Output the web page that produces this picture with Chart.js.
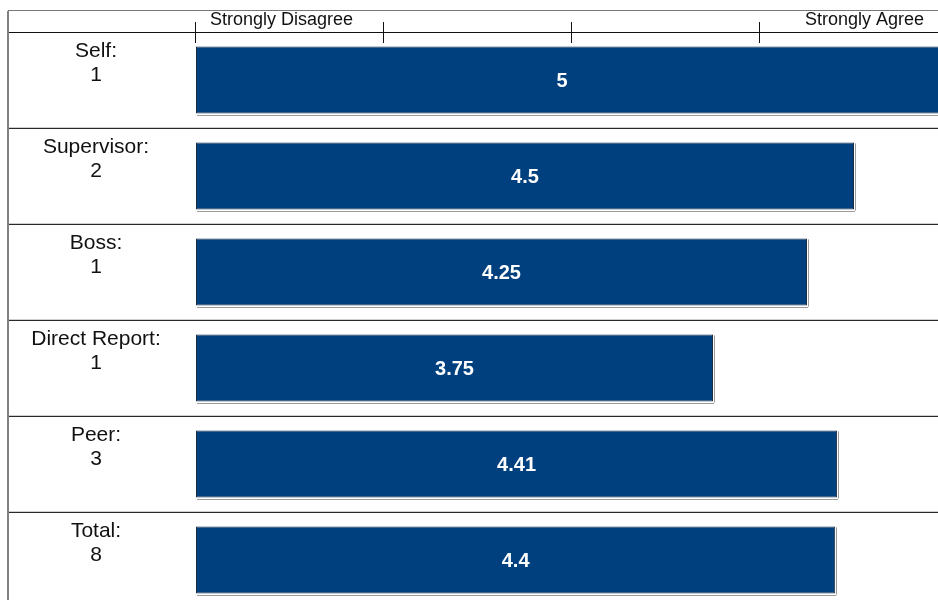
<!DOCTYPE html>
<html>
<head>
<meta charset="utf-8">
<script src="https://cdn.jsdelivr.net/npm/chart.js"></script>
<style>
  html, body { margin:0; padding:0; background:#fff; overflow:hidden; }
  #wrap { width:938px; height:600px; overflow:hidden; position:relative; }
  #box { width:950px; height:610px; }
</style>
</head>
<body>
<div id="wrap"><div id="box"><canvas id="rating-chart"></canvas></div></div>
<script>
// rater groups, number of raters, average score
const groups = ['Self:', 'Supervisor:', 'Boss:', 'Direct Report:', 'Peer:', 'Total:'];
const raters = [1, 2, 1, 1, 3, 8];
const scores = [5, 4.5, 4.25, 3.75, 4.41, 4.4];
const scaleMin = 1;
const scaleMax = 5;
const scaleTicks = [1, 2, 3, 4, 5];
const scaleEnds = ['Strongly Disagree', 'Strongly Agree'];

const FONT = '"Liberation Sans", Arial, sans-serif';
const VIEW_W = 938, VIEW_H = 600;

const frame = {
  id: 'frame',
  beforeDatasetsDraw(chart) {
    // thin grey drop shadow under each bar
    const ctx = chart.ctx;
    const left = chart.scales.x.getPixelForValue(scaleMin);
    ctx.save();
    ctx.fillStyle = '#9a9a9a';
    chart.getDatasetMeta(0).data.forEach(bar => {
      const h = bar.height;
      ctx.fillRect(left + 1, Math.round(bar.y + h / 2) + 1, bar.x - left, 1);
      ctx.fillRect(Math.round(bar.x) + 1, bar.y - h / 2 + 1, 1, h);
    });
    ctx.restore();
  },
  afterDraw(chart) {
    const ctx = chart.ctx;
    const x = chart.scales.x, y = chart.scales.y;
    const area = chart.chartArea;
    const step = y.getPixelForValue(1) - y.getPixelForValue(0);
    const left = x.getPixelForValue(scaleMin);
    ctx.save();

    // outer frame
    ctx.fillStyle = '#808080';
    ctx.fillRect(7, 11, 2, VIEW_H);
    ctx.fillStyle = '#777';
    ctx.fillRect(8, 10, VIEW_W, 1);
    ctx.fillStyle = '#111';
    ctx.fillRect(9, Math.round(area.top), VIEW_W, 1);

    // row separators
    groups.forEach((g, i) => {
      if (i === 0) return;
      const yy = Math.round(y.getPixelForValue(i) - step / 2);
      ctx.fillStyle = '#cfcfcf';
      ctx.fillRect(9, yy - 1, VIEW_W, 1);
      ctx.fillStyle = '#2a2a2a';
      ctx.fillRect(9, yy, VIEW_W, 1);
    });

    // scale tick marks across the header line
    ctx.fillStyle = '#111';
    scaleTicks.forEach(v => {
      const px = Math.round(x.getPixelForValue(v));
      ctx.fillRect(px - 1, area.top - 10, 1, 21);
    });

    // scale end captions
    ctx.font = '18px ' + FONT;
    ctx.fillStyle = '#111';
    ctx.textBaseline = 'alphabetic';
    ctx.textAlign = 'left';
    ctx.fillText(scaleEnds[0], left + 14, 25);
    ctx.textAlign = 'right';
    ctx.fillText(scaleEnds[1], x.getPixelForValue(scaleMax) - 24, 25);

    // group labels with rater counts
    ctx.font = '21px ' + FONT;
    ctx.textAlign = 'center';
    groups.forEach((g, i) => {
      const top = y.getPixelForValue(i) - step / 2;
      ctx.fillText(g, 96, top + 25);
      ctx.fillText(String(raters[i]), 96, top + 49);
    });

    // value labels inside bars
    ctx.font = 'bold 20px ' + FONT;
    ctx.fillStyle = '#fff';
    ctx.textBaseline = 'middle';
    chart.getDatasetMeta(0).data.forEach((bar, i) => {
      const right = Math.min(bar.x, VIEW_W - 10);
      ctx.fillText(String(scores[i]), (left + right) / 2, bar.y + 1);
    });

    ctx.restore();
  }
};

new Chart(document.getElementById('rating-chart'), {
  type: 'bar',
  data: {
    labels: groups,
    datasets: [{
      data: scores,
      base: scaleMin,
      backgroundColor: '#01407f',
      borderColor: '#1b2b40',
      borderWidth: 1,
      borderSkipped: false,
      categoryPercentage: 1,
      barPercentage: 0.7
    }]
  },
  options: {
    indexAxis: 'y',
    responsive: true,
    maintainAspectRatio: false,
    animation: false,
    layout: { padding: { left: 196, top: 32, right: 2, bottom: 2 } },
    plugins: { legend: { display: false }, tooltip: { enabled: false } },
    scales: {
      x: { display: false, min: scaleMin, max: scaleMax },
      y: { display: false }
    }
  },
  plugins: [frame]
});
</script>
</body>
</html>
